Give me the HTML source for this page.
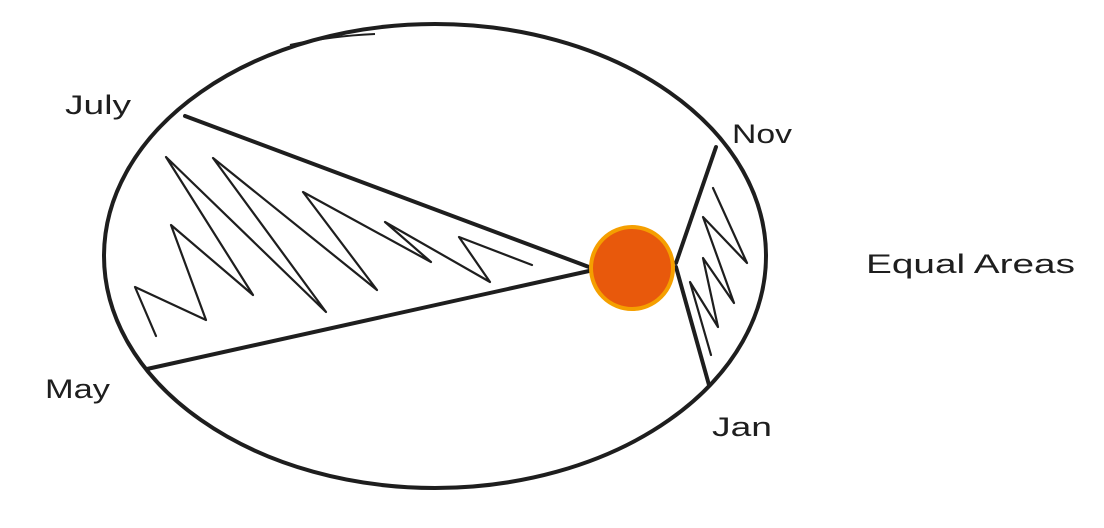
<!DOCTYPE html>
<html><head><meta charset="utf-8"><style>
html,body{margin:0;padding:0;background:#fff;}
svg{display:block;}
text{font-family:"Liberation Sans",sans-serif;font-size:27px;fill:#1e1e1e;}
</style></head><body>
<svg width="1104" height="528" viewBox="0 0 1104 528">
<ellipse cx="435" cy="256" rx="331" ry="232" fill="none" stroke="#1e1e1e" stroke-width="4"/>
<path d="M290 45 Q330 36 375 34" fill="none" stroke="#1e1e1e" stroke-width="2"/>
<g stroke="#1e1e1e" fill="none" stroke-linecap="round" stroke-linejoin="round">
<line x1="185" y1="116" x2="589" y2="267" stroke-width="4"/>
<line x1="147" y1="369" x2="589" y2="271" stroke-width="4"/>
<line x1="716" y1="147" x2="676" y2="263" stroke-width="4"/>
<line x1="676" y1="267" x2="709" y2="385" stroke-width="4"/>
<polyline points="156,336 135,287 206,320 171,225 253,295 166,157 326,312 213,158 377,290 303,192 431,262 385,222 490,282 459,237 532,265" stroke-width="2.2"/>
<polyline points="713,188 747,263 703,217 734,303 703,258 718,327 690,282 711,355" stroke-width="2.2"/>
</g>
<circle cx="632" cy="268" r="41" fill="#e8590c" stroke="#f59f00" stroke-width="4"/>
<text x="65" y="114" textLength="66" lengthAdjust="spacingAndGlyphs">July</text>
<text x="732" y="143" textLength="60" lengthAdjust="spacingAndGlyphs">Nov</text>
<text x="45" y="398" textLength="65" lengthAdjust="spacingAndGlyphs">May</text>
<text x="712" y="436" textLength="60" lengthAdjust="spacingAndGlyphs">Jan</text>
<text x="866" y="273" textLength="209" lengthAdjust="spacingAndGlyphs">Equal Areas</text>
</svg>
</body></html>
